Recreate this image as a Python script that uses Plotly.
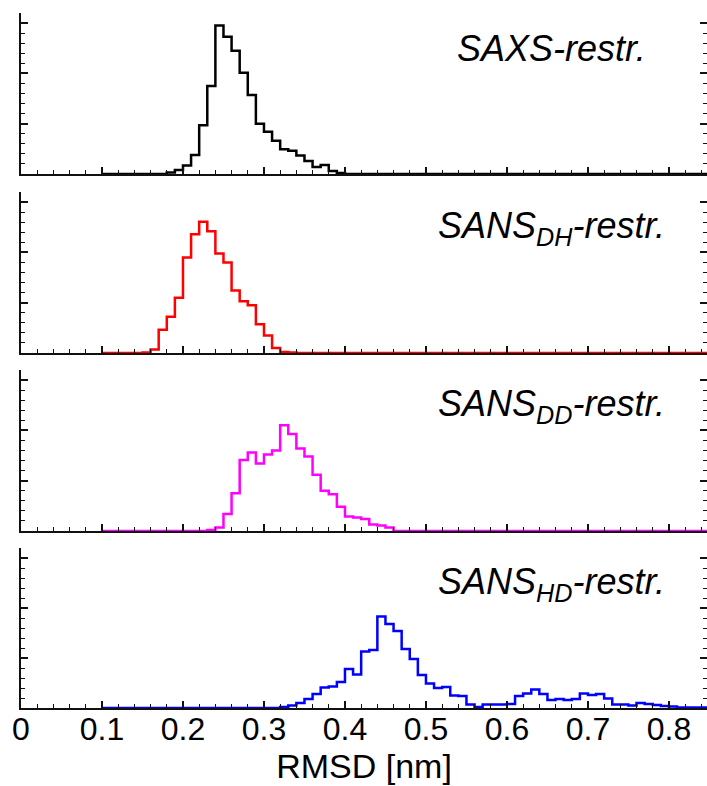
import plotly.graph_objects as go

# ---- data (bins of width 0.01 nm, starting at 0.10 nm) ----
bin_start = 0.10
bin_width = 0.01

saxs = [0, 0, 0, 0, 0, 0, 0, 0,
        0.03, 0.08, 0.17, 0.38, 0.97, 1.75, 2.95, 2.73, 2.45, 2.01, 1.57, 1.00,
        0.84, 0.66, 0.49, 0.46, 0.37, 0.26, 0.14, 0.18, 0.06, 0.02,
        0, 0, 0, 0, 0, 0, 0, 0, 0, 0, 0, 0, 0, 0, 0, 0, 0, 0, 0, 0,
        0, 0, 0, 0, 0, 0, 0, 0, 0, 0, 0, 0, 0, 0, 0, 0, 0, 0, 0, 0,
        0, 0, 0, 0, 0]

sans_dh = [0, 0, 0, 0, 0,
           0.01, 0.07, 0.46, 0.72, 1.10, 1.90, 2.36, 2.61, 2.42, 1.98, 1.80,
           1.24, 1.03, 0.95, 0.57, 0.35, 0.10, 0.02, 0.01,
           0, 0, 0, 0, 0, 0, 0, 0, 0, 0, 0, 0, 0, 0, 0, 0, 0, 0, 0, 0, 0, 0,
           0, 0, 0, 0, 0, 0, 0, 0, 0, 0, 0, 0, 0, 0, 0, 0, 0, 0, 0, 0, 0, 0,
           0, 0, 0, 0, 0, 0, 0]

sans_dd = [0, 0, 0, 0, 0, 0, 0, 0, 0, 0, 0, 0, 0,
           0.02, 0.07, 0.34, 0.75, 1.41, 1.56, 1.34, 1.52, 1.60, 2.10, 1.93,
           1.64, 1.48, 1.12, 0.80, 0.73, 0.48, 0.29, 0.27, 0.24, 0.13, 0.11, 0.07,
           0, 0, 0, 0, 0, 0, 0, 0, 0, 0, 0, 0, 0, 0, 0, 0, 0, 0, 0, 0, 0, 0, 0,
           0, 0, 0, 0, 0, 0, 0, 0, 0, 0, 0, 0, 0, 0, 0, 0]

sans_hd = [0, 0, 0, 0, 0, 0, 0, 0, 0, 0, 0, 0, 0, 0, 0, 0, 0, 0, 0, 0, 0, 0,
           0.02, 0.05, 0.10, 0.18, 0.28, 0.41, 0.43, 0.52, 0.78, 0.67, 1.13, 1.16,
           1.83, 1.68, 1.54, 1.18, 0.98, 0.66, 0.49, 0.40, 0.42, 0.25, 0.24, 0.07,
           0.02, 0.07, 0.07, 0.07, 0.08, 0.24, 0.29, 0.37, 0.28, 0.16, 0.18, 0.16,
           0.18, 0.29, 0.26, 0.28, 0.19, 0.07, 0.07, 0.05, 0.10, 0.08, 0.06, 0.04,
           0.03, 0.01, 0.01, 0.01, 0.01]

series = [saxs, sans_dh, sans_dd, sans_hd]
colors = ["#000000", "#ff0000", "#ff00ff", "#0000ff"]
labels = ["SAXS-restr.", "SANS<sub>DH</sub>-restr.",
          "SANS<sub>DD</sub>-restr.", "SANS<sub>HD</sub>-restr."]
x_ticks = [0, 0.1, 0.2, 0.3, 0.4, 0.5, 0.6, 0.7, 0.8]
x_ticklabels = ["0", "0.1", "0.2", "0.3", "0.4", "0.5", "0.6", "0.7", "0.8"]

W, H = 707, 786
panel_px = [(13, 174), (192, 353), (370, 531), (548, 708)]
x_left_px = 21
XMAX = 0.847
FONT = "Liberation Sans, Arial, Helvetica, sans-serif"

fig = go.Figure()
for i, (vals, col) in enumerate(zip(series, colors)):
    edges = [round(bin_start + k * bin_width, 4) for k in range(len(vals) + 1)]
    ys = list(vals) + [vals[-1]]
    fig.add_trace(go.Scatter(
        x=edges, y=ys, mode="lines", line=dict(color=col, width=2.5, shape="hv"),
        xaxis="x" if i == 0 else f"x{i+1}",
        yaxis="y" if i == 0 else f"y{i+1}",
        showlegend=False, hoverinfo="skip"))

layout = dict(
    width=W, height=H, margin=dict(l=0, r=0, t=0, b=0, pad=0, autoexpand=False),
    paper_bgcolor="white", plot_bgcolor="white", showlegend=False,
    font=dict(family=FONT, color="black"),
)
for i, (top, bot) in enumerate(panel_px):
    xa = "xaxis" if i == 0 else f"xaxis{i+1}"
    ya = "yaxis" if i == 0 else f"yaxis{i+1}"
    yname = "y" if i == 0 else f"y{i+1}"
    xname = "x" if i == 0 else f"x{i+1}"
    last = i == len(panel_px) - 1
    layout[xa] = dict(
        domain=[x_left_px / W, 1.0], range=[0, XMAX], anchor=yname,
        automargin=False,
        showgrid=False, zeroline=False, showline=True, linecolor="#111",
        linewidth=2, mirror=False,
        ticks="inside", ticklen=7, tickwidth=1.5, tickcolor="#111",
        tickmode="array", tickvals=x_ticks, ticktext=x_ticklabels,
        showticklabels=last, tickfont=dict(size=32, family=FONT, color="black"),
        ticklabelstandoff=-8,
        minor=dict(dtick=0.02, tick0=0, ticks="inside", ticklen=4,
                   tickwidth=1.2, tickcolor="#111", showgrid=False),
    )
    if last:
        layout[xa]["title"] = dict(text="RMSD [nm]", font=dict(size=34, family=FONT, color="black"),
                                   standoff=8)
    layout[ya] = dict(
        domain=[1 - bot / H, 1 - top / H], range=[0, 3.2], anchor=xname,
        automargin=False,
        showgrid=False, zeroline=False, showline=True, linecolor="#111",
        linewidth=2, mirror="ticks",
        ticks="inside", ticklen=7, tickwidth=1.5, tickcolor="#111",
        dtick=1, tick0=0, showticklabels=False,
        minor=dict(dtick=0.2, tick0=0, ticks="inside", ticklen=4,
                   tickwidth=1.2, tickcolor="#111", showgrid=False),
    )

annotations = []
for i, ((top, bot), lab) in enumerate(zip(panel_px, labels)):
    annotations.append(dict(
        text=f"<i>{lab}</i>", xref="paper", yref="paper",
        x=551 / W, y=1 - (top + 36) / H, xanchor="center", yanchor="middle",
        showarrow=False, font=dict(size=36, family=FONT, color="black")))
layout["annotations"] = annotations

fig.update_layout(**layout)
fig.write_html("out.html")
